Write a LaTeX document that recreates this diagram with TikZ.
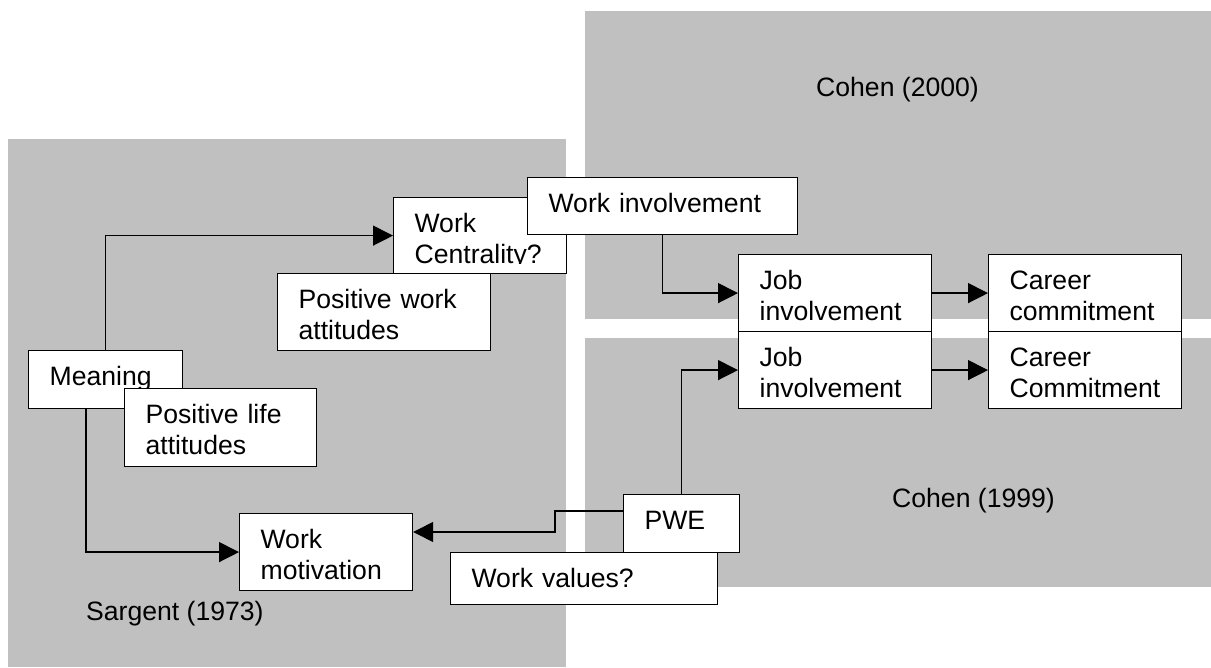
\documentclass[tikz,border=0pt]{standalone}
\usepackage{fontspec}
\setmainfont{Liberation Sans}
\usetikzlibrary{arrows.meta}
\definecolor{regiongray}{RGB}{192,192,192}
\begin{document}
\begin{tikzpicture}[x=1pt,y=-1pt,
  box/.style={draw=black, fill=white, line width=1.2pt, anchor=north west,
    inner xsep=21pt, inner ysep=0pt, align=left, text height=35pt,
    font=\fontsize{26.6}{30.5}\selectfont},
  conn/.style={draw=black, line width=1.3pt, -{Triangle[length=20pt,width=20pt]}},
  lbl/.style={anchor=base west, inner sep=0pt, font=\fontsize{26.6}{30.5}\selectfont}]
\useasboundingbox (0,0) rectangle (1211,668);
% regions
\fill[regiongray] (8,139) rectangle (566,667);
\fill[regiongray] (585,11) rectangle (1211,319);
\fill[regiongray] (585,338) rectangle (1211,587);
% region labels
\node[lbl] (lc2000) at (816,97) {Cohen (2000)};
\node[lbl] (lc1999) at (892,507) {Cohen (1999)};
\node[lbl] (lsarg) at (86,620) {Sargent (1973)};
% boxes
\node[box, text width=131pt, text depth=41pt] (wc) at (393,197) {Work\\Centrality?};
\fill[white] ([xshift=2pt,yshift=-67pt]wc.north west) rectangle ([xshift=-2pt,yshift=1pt]wc.south east);
\node[box, text width=228pt, text depth=22pt] (wi) at (527,177) {Work involvement};
\node[box, text width=171pt, text depth=42pt] (pwa) at (277,273) {Positive work\\attitudes};
\node[box, text width=112pt, text depth=23pt] (mean) at (28,350) {Meaning};
\node[box, text width=150pt, text depth=43pt] (pla) at (124,388) {Positive life\\attitudes};
\node[box, text width=131pt, text depth=42pt] (wm) at (239,513) {Work\\motivation};
\node[box, text width=74pt, text depth=23pt] (pwe) at (623,494) {PWE};
\node[box, text width=225pt, text depth=17pt] (wv) at (450,552) {Work values?};
\node[box, text width=151pt, text depth=42pt] (ji1) at (738,254) {Job\\involvement};
\node[box, text width=151pt, text depth=42pt] (ji2) at (738,331) {Job\\involvement};
\node[box, text width=151pt, text depth=42pt] (cc1) at (988,254) {Career\\commitment};
\node[box, text width=151pt, text depth=42pt] (cc2) at (988,331) {Career\\Commitment};
% connectors
\draw[conn] (mean.north) |- (wc.west);
\draw[conn] (wi.south) |- (ji1.west);
\draw[conn] (ji1.east) -- (cc1.west);
\draw[conn] (ji2.east) -- (cc2.west);
\draw[conn] (pwe.north) |- (ji2.west);
\draw[conn] ([xshift=58pt]mean.south west) |- (wm.west);
\draw[conn] ([yshift=-17pt]pwe.north west) -- ++(-68,0) |- ([yshift=-19pt]wm.north east);
\end{tikzpicture}
\end{document}
